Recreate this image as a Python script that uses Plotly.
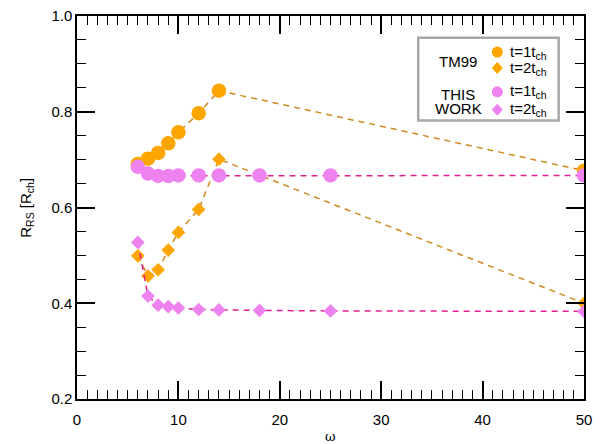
import plotly.graph_objects as go

# Rotating-star radius vs. omega, TM99 against this work at two times
omega_tm99 = [6, 7, 8, 9, 10, 12, 14, 50]
tm99_t1 = [0.691, 0.702, 0.714, 0.734, 0.757, 0.797, 0.844, 0.677]
tm99_t2 = [0.499, 0.457, 0.470, 0.511, 0.548, 0.596, 0.701, 0.400]

omega_tw = [6, 7, 8, 9, 10, 12, 14, 18, 25, 50]
tw_t1 = [0.685, 0.671, 0.666, 0.666, 0.667, 0.667, 0.667, 0.667, 0.667, 0.667]
tw_t2 = [0.527, 0.415, 0.396, 0.393, 0.390, 0.387, 0.386, 0.385, 0.384, 0.383]

x_ticks = [0, 10, 20, 30, 40, 50]
y_ticks = [0.2, 0.4, 0.6, 0.8, 1.0]

ORANGE = "#ffa500"
ORANGE_LINE = "#d0891f"
VIOLET = "#ee82ee"
VIOLET_LINE = "#e0208f"
FONT = "Liberation Sans, Arial, Helvetica, sans-serif"

fig = go.Figure()

series = [
    (omega_tm99, tm99_t1, ORANGE, ORANGE_LINE, "circle", 14.5),
    (omega_tm99, tm99_t2, ORANGE, ORANGE_LINE, "diamond", 10.5),
    (omega_tw, tw_t1, VIOLET, VIOLET_LINE, "circle", 14.5),
    (omega_tw, tw_t2, VIOLET, VIOLET_LINE, "diamond", 10.5),
]
for xs, ys, mc, lc, sym, sz in series:
    fig.add_trace(go.Scatter(
        x=xs, y=ys, mode="lines+markers",
        line=dict(color=lc, width=1.5, dash="6px,5px"),
        marker=dict(color=mc, symbol=sym, size=sz, line=dict(width=0)),
        showlegend=False, hoverinfo="skip",
    ))

axis_common = dict(
    showgrid=False, zeroline=False, showline=True, linecolor="black",
    linewidth=1.5, mirror="allticks", ticks="inside", ticklen=18,
    tickwidth=1.5, tickcolor="black", automargin=False,
    tickfont=dict(family=FONT, size=15, color="black"),
)

fig.update_layout(
    width=606, height=444,
    margin=dict(l=77, r=22, t=16, b=45),
    paper_bgcolor="white", plot_bgcolor="white",
    xaxis=dict(
        range=[x_ticks[0], x_ticks[-1]], tickmode="linear",
        tick0=x_ticks[0], dtick=x_ticks[1] - x_ticks[0],
        minor=dict(dtick=1, ticklen=9, tickwidth=1.2, tickcolor="black", ticks="inside"),
        ticklabelstandoff=6,
        **axis_common,
    ),
    yaxis=dict(
        range=[y_ticks[0], y_ticks[-1]], tickmode="linear",
        tick0=y_ticks[0], dtick=y_ticks[1] - y_ticks[0], tickformat=".1f",
        minor=dict(dtick=0.05, ticklen=9, tickwidth=1.2, tickcolor="black", ticks="inside"),
        **axis_common,
    ),
)

# Axis titles placed in paper space
fig.add_annotation(x=0.5, y=-0.099, xref="paper", yref="paper", text="ω",
                   showarrow=False, xanchor="center", yanchor="middle",
                   font=dict(family="DejaVu Serif, serif", size=13, color="black"))
fig.add_annotation(x=-0.1, y=0.5, xref="paper", yref="paper",
                   text="R<sub>RS</sub> [R<sub>ch</sub>]", textangle=-90,
                   showarrow=False, xanchor="center", yanchor="middle",
                   font=dict(family=FONT, size=15, color="black"))

# Legend frame, drawn in axis-domain fractions
fig.add_shape(type="rect", xref="x domain", yref="y domain",
              x0=0.673, x1=0.950, y0=0.727, y1=0.943,
              line=dict(color="#a8a8a8", width=2.5), fillcolor="white", layer="above")

# Legend key symbols, sized in pixels around their anchors
key_x = 0.829
key_rows = [(0.906, ORANGE, "circle"), (0.864, ORANGE, "diamond"),
            (0.802, VIOLET, "circle"), (0.755, VIOLET, "diamond")]
for ky, col, sym in key_rows:
    common = dict(xref="x domain", yref="y domain", xsizemode="pixel", ysizemode="pixel",
                  xanchor=key_x, yanchor=ky, fillcolor=col, line=dict(width=0),
                  layer="above")
    if sym == "circle":
        fig.add_shape(type="circle", x0=-5.5, x1=5.5, y0=-5.5, y1=5.5, **common)
    else:
        fig.add_shape(type="path", path="M0,6 L5.5,0 L0,-6 L-5.5,0 Z", **common)

legend_font = dict(family=FONT, size=15, color="black")
labels = [
    (0.752, 0.880, "TM99", "center"),
    (0.752, 0.796, "THIS", "center"),
    (0.752, 0.758, "WORK", "center"),
    (0.851, 0.906, "t=1t<sub>ch</sub>", "left"),
    (0.851, 0.864, "t=2t<sub>ch</sub>", "left"),
    (0.851, 0.802, "t=1t<sub>ch</sub>", "left"),
    (0.851, 0.755, "t=2t<sub>ch</sub>", "left"),
]
for lx, ly, txt, anchor in labels:
    fig.add_annotation(x=lx, y=ly, xref="x domain", yref="y domain", text=txt,
                       showarrow=False, xanchor=anchor, yanchor="middle", font=legend_font)

fig.write_html("out.html")
